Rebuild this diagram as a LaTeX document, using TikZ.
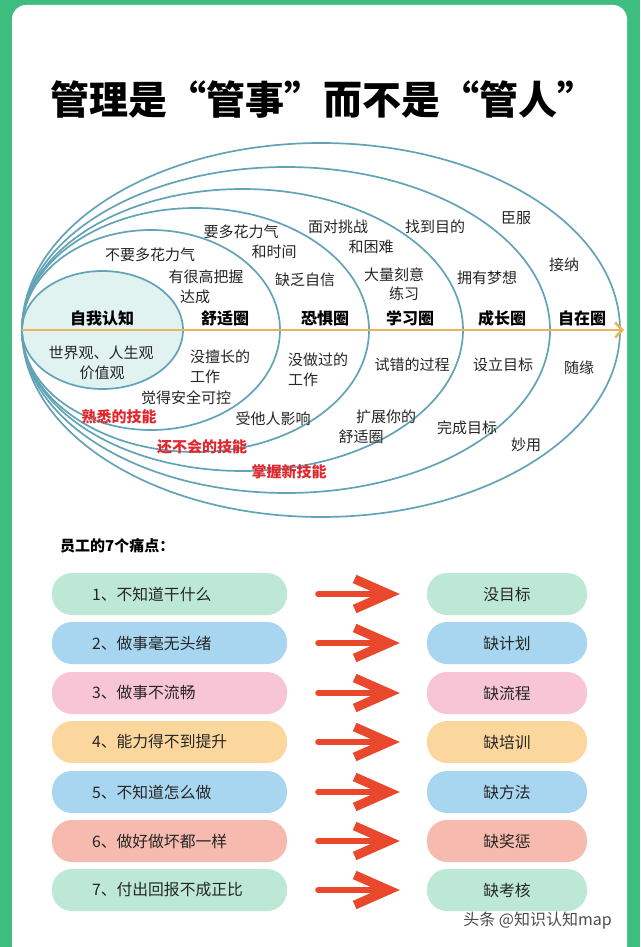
\documentclass[tikz,border=0pt]{standalone}
\usepackage{fontspec}
\newfontfamily\cjk{Noto Sans CJK SC}
\usetikzlibrary{arrows.meta}
\definecolor{bggreen}{HTML}{3DBE7F}
\definecolor{ringblue}{HTML}{62A3B8}
\definecolor{innerfill}{HTML}{E0F3F1}
\definecolor{axisgold}{HTML}{E8B55C}
\definecolor{txtgray}{HTML}{262626}
\definecolor{redtxt}{HTML}{E0282E}
\definecolor{arrowred}{HTML}{E9482C}
\definecolor{cmint}{HTML}{BDE8D6}
\definecolor{cblue}{HTML}{A8D6F0}
\definecolor{cpink}{HTML}{F7C5D6}
\definecolor{cpeach}{HTML}{FCD79D}
\definecolor{csalmon}{HTML}{F7BAAF}
\begin{document}
\begin{tikzpicture}[x=1pt,y=-1pt,
  txt/.style={font=\cjk\fontsize{15}{17}\selectfont, text=txtgray, inner sep=0pt},
  lbl/.style={font=\cjk\bfseries\fontsize{16}{18}\selectfont, text=black, inner sep=0pt},
  redlbl/.style={font=\cjk\bfseries\fontsize{15}{17}\selectfont, text=redtxt, inner sep=0pt},
  ring/.style={draw=ringblue, line width=1.7pt},
  lpill/.style={rounded corners=20pt, minimum height=42pt, inner ysep=0pt, inner xsep=40pt, text width=155pt, align=left,
     font=\cjk\fontsize{15.8}{17}\selectfont, text=txtgray},
  rpill/.style={rounded corners=20pt, minimum height=42pt, minimum width=160pt, inner sep=0pt,
     font=\cjk\fontsize{15.8}{17}\selectfont, text=txtgray},
  brush/.style={draw=arrowred, line width=6pt, line cap=round, shorten <=31pt, shorten >=27pt,
     -{Straight Barb[length=34pt,width=30pt,line width=9pt]}}
]
\useasboundingbox (0,0) rectangle (640,947);
\clip (0,0) rectangle (640,947);
\fill[bggreen] (0,0) rectangle (640,947);
\fill[white, rounded corners=14pt] (12,5) rectangle (627,980);

% title
\node[font=\cjk\bfseries\fontsize{39}{42}\selectfont, inner sep=0pt] (title) at (323,100)
  {管理是\makebox[1em][r]{“}管事\makebox[1em][l]{”}而不是\makebox[1em][r]{“}管人\makebox[1em][l]{”}};

% rings
\fill[innerfill] (102.5,330) ellipse [x radius=80.5, y radius=59];
\draw[ring] (321,330) ellipse [x radius=299, y radius=187];
\draw[ring] (286,330) ellipse [x radius=264, y radius=163];
\draw[ring] (242.5,330) ellipse [x radius=220.5, y radius=141];
\draw[ring] (195.5,330) ellipse [x radius=173.5, y radius=122];
\draw[ring] (151,330) ellipse [x radius=129, y radius=100];
\draw[ring] (102.5,330) ellipse [x radius=80.5, y radius=59];

% axis
\coordinate (axL) at (22,330);
\coordinate (axR) at (624,330);
\draw[axisgold, line width=2.6pt, -{Straight Barb[length=7pt,width=15pt]}] (axL) -- (axR);

% circle labels
\node[lbl] (z1) at (102,318) {自我认知};
\node[lbl] (z2) at (225,318) {舒适圈};
\node[lbl] (z3) at (325,318) {恐惧圈};
\node[lbl] (z4) at (410,318) {学习圈};
\node[lbl] (z5) at (502,318) {成长圈};
\node[lbl] (z6) at (582,318) {自在圈};

% upper texts
\node[txt] (u1) at (150,255) {不要多花力气};
\node[txt] (u2) at (241,232) {要多花力气};
\node[txt] (u3) at (274,252) {和时间};
\node[txt] (u4) at (206,277) {有很高把握};
\node[txt] (u5) at (195,297) {达成};
\node[txt] (u6) at (305,280) {缺乏自信};
\node[txt] (u7) at (338,227) {面对挑战};
\node[txt] (u8) at (371,247) {和困难};
\node[txt] (u9) at (435,227) {找到目的};
\node[txt] (u10) at (394,275) {大量刻意};
\node[txt] (u11) at (404,294) {练习};
\node[txt] (u12) at (516,218) {臣服};
\node[txt] (u13) at (487,278) {拥有梦想};
\node[txt] (u14) at (564,265) {接纳};

% lower texts
\node[txt] (d1) at (101,353) {世界观、人生观};
\node[txt] (d2) at (102,373) {价值观};
\node[txt,anchor=west] (d3) at (190,357) {没擅长的};
\node[txt,anchor=west] (d4) at (190,377) {工作};
\node[txt] (d5) at (186,398) {觉得安全可控};
\node[redlbl] (d6) at (119,417) {熟悉的技能};
\node[txt] (d7) at (273,419) {受他人影响};
\node[redlbl] (d8) at (202,447) {还不会的技能};
\node[redlbl] (d9) at (289,472) {掌握新技能};
\node[txt,anchor=west] (d10) at (288,360) {没做过的};
\node[txt,anchor=west] (d11) at (288,380) {工作};
\node[txt] (d12) at (412,365) {试错的过程};
\node[txt] (d13) at (503,365) {设立目标};
\node[txt] (d14) at (579,368) {随缘};
\node[txt] (d15) at (386,417) {扩展你的};
\node[txt] (d16) at (361,437) {舒适圈};
\node[txt] (d17) at (467,428) {完成目标};
\node[txt] (d18) at (526,445) {妙用};

% pain points
\node[font=\cjk\bfseries\fontsize{15}{17}\selectfont, anchor=west, inner sep=0pt] (hdr) at (60,546) {员工的7个痛点：};

\foreach \i/\yy/\col/\ltxt/\rtxt in {
  1/594/cmint/{1、不知道干什么}/{没目标},
  2/643/cblue/{2、做事毫无头绪}/{缺计划},
  3/693/cpink/{3、做事不流畅}/{缺流程},
  4/742/cpeach/{4、能力得不到提升}/{缺培训},
  5/792/cblue/{5、不知道怎么做}/{缺方法},
  6/841/csalmon/{6、做好做坏都一样}/{缺奖惩},
  7/890/cmint/{7、付出回报不成正比}/{缺考核}} {
  \node[lpill, fill=\col] (l\i) at (169.5,\yy) {\ltxt};
  \node[rpill, fill=\col] (r\i) at (507,\yy) {\rtxt};
  \draw[brush] (l\i.east) -- (r\i.west);
}

% watermark
\node[font=\cjk\fontsize{16}{18}\selectfont, text=black!70, inner sep=0pt, anchor=east] (wm) at (612,921) {头条 @知识认知map};
\end{tikzpicture}
\end{document}
